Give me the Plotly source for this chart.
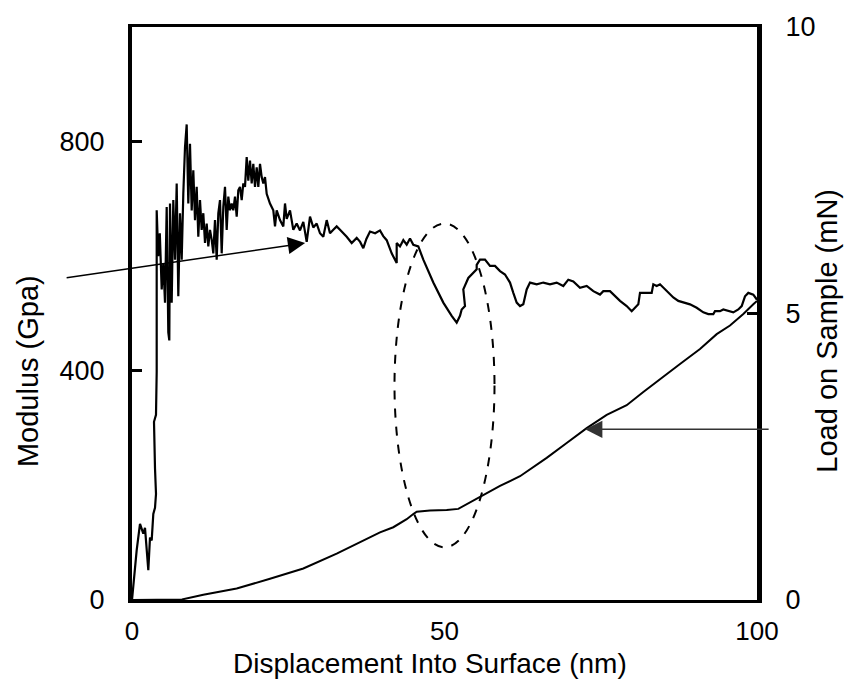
import plotly.graph_objects as go

# Modulus (GPa) vs displacement (nm)
mod_x = [0, 0.75, 1.28, 1.81, 2.08, 2.61, 2.88, 3.15, 3.41, 3.68, 3.84, 3.68, 3.52, 3.84, 3.95, 3.95,
         3.95, 4.2, 4.45, 4.75, 5.01, 5.28, 5.55, 5.81, 5.97, 6.08, 6.35, 6.61, 6.88, 7.15, 7.41, 7.68,
         7.95, 8.21, 8.48, 8.75, 9.01, 9.28, 9.55, 9.81, 10.08, 10.35, 10.61, 10.88, 11.15, 11.41, 11.68,
         11.95, 12.21, 12.48, 12.75, 13.01, 13.28, 13.55, 13.81, 14.08, 14.35, 14.61, 14.88, 15.15, 15.41,
         15.68, 15.95, 16.21, 16.48, 16.75, 17.01, 17.28, 17.55, 17.81, 18.08, 18.35, 18.61, 18.88, 19.15,
         19.41, 19.68, 19.95, 20.21, 20.48, 20.75, 21.01, 21.28, 21.55, 22.08, 22.61, 22.88, 23.15, 23.68,
         24.21, 24.48, 24.75, 25.28, 25.81, 26.35, 26.88, 27.41, 27.95, 28.48, 29.01, 29.55, 30.08, 30.61,
         31.15, 31.68, 32.21, 32.75, 33.28, 33.81, 34.35, 35.15, 35.95, 36.5, 37.01, 37.5, 38.08, 38.9,
         39.68, 40.2, 40.75, 41.55, 42.35, 42.35, 42.88, 43.41, 43.95, 44.48, 45.01, 45.81, 46.61, 48.21,
         49.81, 51.15, 51.95, 52.48, 52.75, 53.28, 53.01, 53.81, 54.61, 55.15, 55.15, 55.68, 56.48, 57.28,
         58.08, 58.88, 59.68, 60.48, 61.01, 61.55, 62.08, 62.61, 63.15, 63.68, 64.75, 65.81, 66.88, 67.95,
         69.01, 69.81, 70.61, 71.68, 72.75, 73.81, 74.88, 75.41, 76.48, 77.28, 78.08, 79.15, 79.95, 80.48,
         81.01, 81.28, 82.35, 83.15, 83.41, 83.95, 84.48, 85.01, 85.81, 86.61, 87.41, 88.21, 89.28, 90.35,
         91.41, 92.21, 93.01, 93.28, 94.08, 94.61, 95.41, 96.21, 97.01, 97.55, 98.08, 98.61, 99.41, 99.68, 100]
mod_y = [0, 87, 133, 116, 126, 52, 109, 104, 150, 161, 185, 230, 311, 323, 398, 450,
         680, 600, 640, 542, 588, 519, 686, 467, 453, 692, 519, 698, 594, 727, 530, 675,
         594, 709, 790, 830, 692, 796, 680, 750, 663, 721, 634, 698, 646, 675, 623,
         657, 617, 646, 629, 605, 663, 594, 675, 698, 605, 686, 721, 646, 704,
         680, 692, 680, 704, 669, 715, 721, 698, 727, 721, 773, 732, 767, 727,
         761, 721, 755, 721, 761, 738, 727, 738, 709, 692, 680, 652, 680, 663,
         652, 692, 665, 680, 646, 657, 645, 660, 625, 669, 650, 657, 640, 634,
         663, 640, 646, 652, 646, 640, 634, 623, 632, 625, 614, 630, 643, 640,
         645, 635, 628, 605, 588, 623, 617, 628, 620, 631, 620, 617, 594, 554,
         519, 496, 484, 496, 507, 513, 542, 562, 571, 577, 585, 594, 594, 583,
         583, 574, 568, 554, 536, 519, 513, 516, 542, 554, 551, 554, 551, 554,
         548, 559, 556, 545, 548, 539, 533, 539, 539, 530, 522, 513, 504, 510,
         516, 536, 536, 536, 551, 548, 551, 545, 536, 528, 522, 519, 516, 510,
         502, 499, 499, 504, 504, 507, 504, 502, 507, 513, 530, 536, 533, 528, 524]

# Load on sample (mN) vs displacement (nm)
load_x = [0, 6.0, 8.0, 11.41, 16.75, 22.08, 27.41, 32.75, 38.08, 39.68, 41.81, 43.95, 45.01, 45.55,
          47.68, 50.35, 52.21, 53.55, 55.68, 58.88, 62.08, 66.35, 69.55, 72.75, 75.95, 79.15, 81.81,
          84.48, 87.68, 90.88, 93.55, 95.68, 97.81, 99.41, 100]
load_y = [0, 0, 0.01, 0.09, 0.2, 0.37, 0.55, 0.81, 1.10, 1.18, 1.27, 1.41, 1.50, 1.54,
          1.56, 1.57, 1.59, 1.67, 1.80, 1.99, 2.16, 2.48, 2.74, 3.00, 3.23, 3.40, 3.63,
          3.86, 4.12, 4.38, 4.64, 4.79, 4.99, 5.16, 5.22]

x_ticks = [0, 50, 100]
mod_ticks = [0, 400, 800]
load_ticks = [0, 5, 10]

x_title = "Displacement Into Surface (nm)"
y_title = "Modulus (Gpa)"
y2_title = "Load on Sample (mN)"

FONT = "Liberation Sans, Arial, sans-serif"

fig = go.Figure()
fig.add_trace(go.Scatter(x=mod_x, y=mod_y, mode="lines", line=dict(color="black", width=2.2),
                         yaxis="y", showlegend=False, hoverinfo="skip"))
fig.add_trace(go.Scatter(x=load_x, y=load_y, mode="lines", line=dict(color="black", width=2),
                         yaxis="y2", showlegend=False, hoverinfo="skip"))

# dashed ellipse around the pop-in region
fig.add_shape(type="circle", xref="x", yref="y", x0=42, x1=58, y0=92, y1=657,
              line=dict(color="black", width=2, dash="dash"))

# arrows
fig.add_annotation(x=27.7, y=623, xref="x", yref="y", ax=-240, ay=35, axref="pixel", ayref="pixel",
                   text="", showarrow=True, arrowhead=2, arrowsize=2.3, arrowwidth=1.5, arrowcolor="black")
fig.add_annotation(x=72.5, y=2.98, xref="x", yref="y2", ax=185, ay=0, axref="pixel", ayref="pixel",
                   text="", showarrow=True, arrowhead=2, arrowsize=2.3, arrowwidth=1.5, arrowcolor="#333333")

# axis titles (placed as in the original figure)
fig.add_annotation(text=x_title, xref="paper", yref="paper", x=0.477, y=-0.111,
                   showarrow=False, font=dict(size=28), xanchor="center", yanchor="middle", borderpad=0)
fig.add_annotation(text=y_title, xref="paper", yref="paper", x=-0.166, y=0.40, textangle=-90,
                   showarrow=False, font=dict(size=29), xanchor="center", yanchor="middle")
fig.add_annotation(text=y2_title, xref="paper", yref="paper", x=1.112, y=0.47, textangle=-90,
                   showarrow=False, font=dict(size=29), xanchor="center", yanchor="middle")

fig.update_layout(
    width=851, height=681,
    margin=dict(l=132, r=94, t=22, b=81),
    paper_bgcolor="white", plot_bgcolor="white",
    font=dict(family=FONT, size=27, color="black"),
    xaxis=dict(range=[0, 100], tickvals=x_ticks, showgrid=False, zeroline=False,
               showline=True, linewidth=3, linecolor="black", mirror=True, ticks="",
               ticklabelstandoff=6, tickfont=dict(size=26)),
    yaxis=dict(range=[0, 1000], tickvals=mod_ticks, showgrid=False, zeroline=False,
               showline=True, linewidth=4, linecolor="black", ticks="inside", ticklen=10, tickwidth=3,
               tickcolor="black", ticklabelstandoff=18),
    yaxis2=dict(range=[0, 10], tickvals=load_ticks, overlaying="y", side="right", showgrid=False,
                zeroline=False, showline=True, linewidth=5, linecolor="black", ticks="inside",
                ticklen=10, tickwidth=3, tickcolor="black", ticklabelstandoff=18),
)

fig.write_html("out.html")
